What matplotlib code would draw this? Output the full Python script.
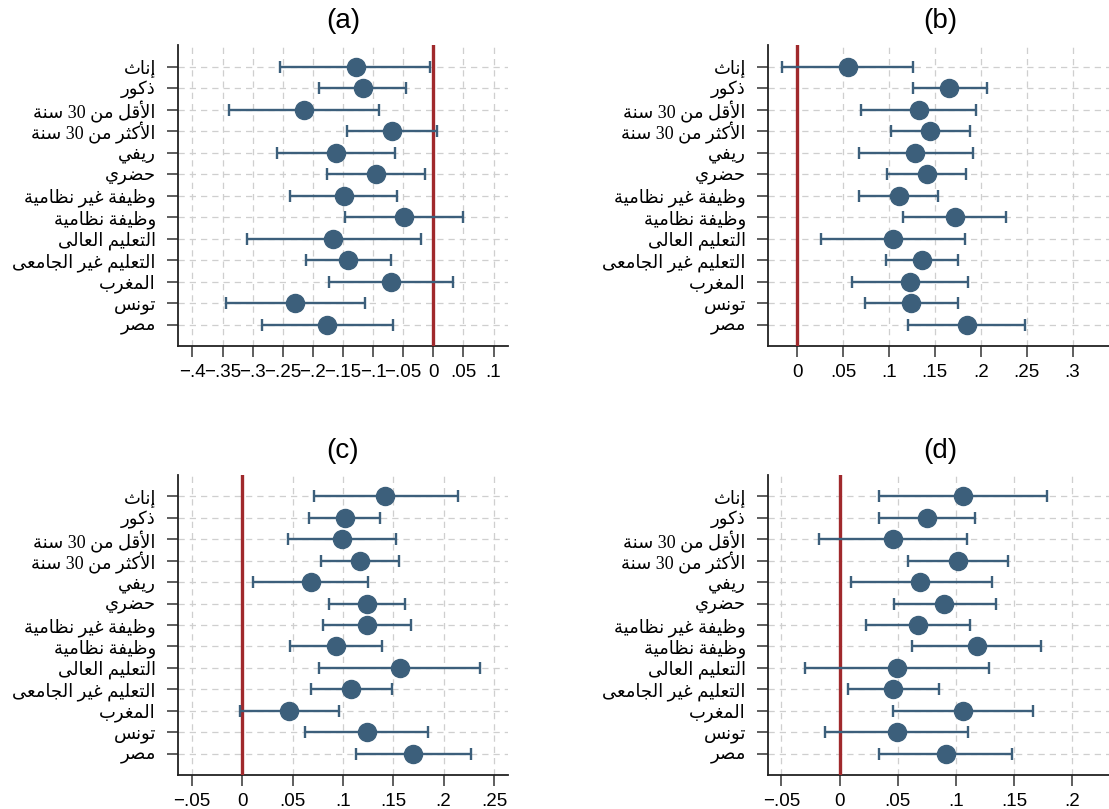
import re
import matplotlib.pyplot as plt

# row labels (logical Arabic order), top to bottom
labels = [
    "إناث", "ذكور", "الأقل من 30 سنة", "الأكثر من 30 سنة", "ريفي", "حضري",
    "وظيفة غير نظامية", "وظيفة نظامية", "التعليم العالى", "التعليم غير الجامعى",
    "المغرب", "تونس", "مصر",
]

# panel (a)
a_est = [-0.129, -0.117, -0.215, -0.069, -0.162, -0.095, -0.149, -0.048, -0.166, -0.142, -0.070, -0.230, -0.176]
a_lo = [-0.254, -0.190, -0.340, -0.143, -0.259, -0.176, -0.238, -0.146, -0.310, -0.212, -0.173, -0.345, -0.285]
a_hi = [-0.006, -0.045, -0.091, 0.006, -0.063, -0.014, -0.061, 0.049, -0.021, -0.071, 0.033, -0.114, -0.067]

# panel (b)
b_est = [0.055, 0.166, 0.133, 0.145, 0.129, 0.141, 0.111, 0.172, 0.104, 0.136, 0.123, 0.124, 0.185]
b_lo = [-0.016, 0.126, 0.070, 0.102, 0.067, 0.098, 0.067, 0.115, 0.026, 0.097, 0.060, 0.074, 0.121]
b_hi = [0.126, 0.207, 0.195, 0.188, 0.192, 0.184, 0.154, 0.228, 0.183, 0.175, 0.186, 0.175, 0.248]

# panel (c)
c_est = [0.142, 0.102, 0.099, 0.117, 0.068, 0.124, 0.124, 0.093, 0.157, 0.108, 0.046, 0.124, 0.170]
c_lo = [0.071, 0.066, 0.045, 0.078, 0.011, 0.086, 0.080, 0.047, 0.076, 0.068, -0.002, 0.062, 0.113]
c_hi = [0.214, 0.137, 0.153, 0.156, 0.125, 0.162, 0.168, 0.139, 0.236, 0.149, 0.096, 0.184, 0.227]

# panel (d)
d_est = [0.106, 0.075, 0.046, 0.102, 0.069, 0.090, 0.067, 0.118, 0.049, 0.046, 0.106, 0.049, 0.091]
d_lo = [0.034, 0.034, -0.018, 0.059, 0.010, 0.047, 0.023, 0.062, -0.030, 0.007, 0.046, -0.013, 0.034]
d_hi = [0.178, 0.116, 0.109, 0.145, 0.131, 0.134, 0.112, 0.173, 0.128, 0.085, 0.166, 0.110, 0.148]

a_ticks = [-0.4, -0.35, -0.3, -0.25, -0.2, -0.15, -0.1, -0.05, 0, 0.05, 0.1]
b_ticks = [0, 0.05, 0.1, 0.15, 0.2, 0.25, 0.3]
c_ticks = [-0.05, 0, 0.05, 0.1, 0.15, 0.2, 0.25]
d_ticks = [-0.05, 0, 0.05, 0.1, 0.15, 0.2]

POINT = "#3c5f7b"
ZERO = "#a0292c"
GRID = "#cfcfcf"

# --- minimal Arabic shaping (matplotlib 3.10 has no text shaping) ---
FORMS4 = {
    "ب": 0xFE8F, "ت": 0xFE95, "ث": 0xFE99, "ج": 0xFE9D, "ح": 0xFEA1, "خ": 0xFEA5,
    "س": 0xFEB1, "ش": 0xFEB5, "ص": 0xFEB9, "ض": 0xFEBD, "ط": 0xFEC1, "ظ": 0xFEC5,
    "ع": 0xFEC9, "غ": 0xFECD, "ف": 0xFED1, "ق": 0xFED5, "ك": 0xFED9, "ل": 0xFEDD,
    "م": 0xFEE1, "ن": 0xFEE5, "ه": 0xFEE9, "ي": 0xFEF1,
}
FORMS2 = {
    "ا": 0xFE8D, "أ": 0xFE83, "إ": 0xFE87, "آ": 0xFE81, "ة": 0xFE93, "د": 0xFEA9,
    "ذ": 0xFEAB, "ر": 0xFEAD, "ز": 0xFEAF, "و": 0xFEED, "ى": 0xFEEF,
}
LAM_ALEF = {"آ": 0xFEF5, "أ": 0xFEF7, "إ": 0xFEF9, "ا": 0xFEFB}


def shape(text):
    chars = []
    i = 0
    while i < len(text):
        if text[i] == "ل" and i + 1 < len(text) and text[i + 1] in LAM_ALEF:
            chars.append(("LA", text[i + 1]))
            i += 2
        else:
            chars.append(text[i])
            i += 1

    def is_ar(c):
        return isinstance(c, tuple) or c in FORMS4 or c in FORMS2

    out = []
    for k, c in enumerate(chars):
        prev = chars[k - 1] if k > 0 else None
        nxt = chars[k + 1] if k + 1 < len(chars) else None
        jp = prev is not None and not isinstance(prev, tuple) and prev in FORMS4
        if isinstance(c, tuple):
            out.append(chr(LAM_ALEF[c[1]] + (1 if jp else 0)))
        elif c in FORMS4:
            jn = nxt is not None and is_ar(nxt)
            out.append(chr(FORMS4[c] + [0, 2, 1, 3][jp * 2 + jn]))
        elif c in FORMS2:
            out.append(chr(FORMS2[c] + (1 if jp else 0)))
        else:
            out.append(c)
    visual = "".join(out)[::-1]
    return re.sub(r"[0-9]+", lambda m: m.group(0)[::-1], visual)


def fmt(v):
    if abs(v) < 1e-9:
        return "0"
    s = f"{abs(v):.2f}".rstrip("0").rstrip(".")
    if s.startswith("0."):
        s = s[1:]
    return ("\u2212" if v < 0 else "") + s


def panel(ax, est, lo, hi, ticks, xlim, title):
    rows = list(range(1, len(labels) + 1))
    ax.set_axisbelow(True)
    ax.grid(True, color=GRID, linestyle=(0, (5, 4)), linewidth=0.9)
    ax.axvline(0, color=ZERO, linewidth=2.4, zorder=3)
    xerr = [[e - l for e, l in zip(est, lo)], [h - e for e, h in zip(est, hi)]]
    ax.errorbar(est, rows, xerr=xerr, fmt="o", color=POINT, ecolor=POINT,
                markersize=13, elinewidth=1.7, capsize=4.5, capthick=1.7, zorder=4)
    ax.set_ylim(len(labels) + 1, 0)
    ax.set_xlim(*xlim)
    ax.set_yticks(rows)
    ax.set_yticklabels([shape(t) for t in labels],
                       fontdict={"family": ["Liberation Serif", "DejaVu Sans"], "size": 13})
    ax.set_xticks(ticks)
    ax.set_xticklabels([fmt(t) for t in ticks], family="Liberation Sans", fontsize=13.5)
    ax.tick_params(direction="out", length=8, width=1.1, color="#333333")
    ax.tick_params(axis="y", pad=8)
    ax.tick_params(axis="x", pad=5)
    for side in ["top", "right"]:
        ax.spines[side].set_visible(False)
    for side in ["left", "bottom"]:
        ax.spines[side].set_linewidth(1.3)
        ax.spines[side].set_color("#222222")
    ax.set_title(title, family="Liberation Sans", fontsize=20, pad=12)


W, H = 1109, 809
fig = plt.figure(figsize=(W / 100, H / 100), dpi=100)


def axes_px(left, top, width, height):
    return fig.add_axes([left / W, 1 - (top + height) / H, width / W, height / H])


ax_a = axes_px(178, 45, 330, 301)
ax_b = axes_px(768, 45, 344, 301)
ax_c = axes_px(178, 475, 330, 300)
ax_d = axes_px(768, 475, 344, 300)

panel(ax_a, a_est, a_lo, a_hi, a_ticks, (-0.424, 0.124), "(a)")
panel(ax_b, b_est, b_lo, b_hi, b_ticks, (-0.0316, 0.343), "(b)")
panel(ax_c, c_est, c_lo, c_hi, c_ticks, (-0.064, 0.264), "(c)")
panel(ax_d, d_est, d_lo, d_hi, d_ticks, (-0.0616, 0.234), "(d)")

fig.savefig("out.png", dpi=100, facecolor="white")
